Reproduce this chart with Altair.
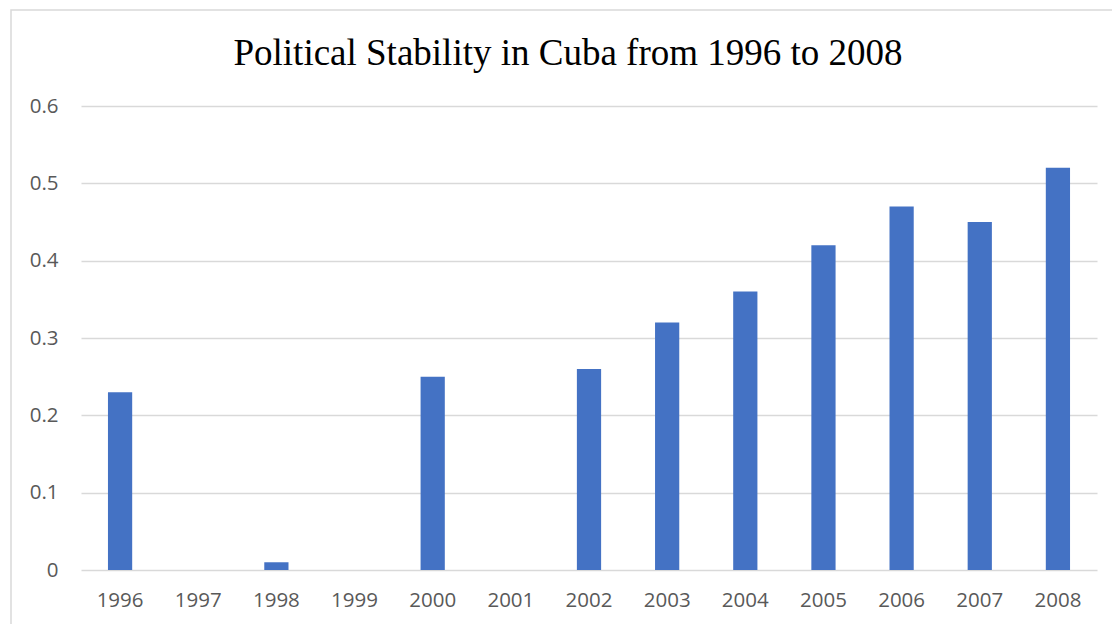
import altair as alt
import pandas as pd

years = ["1996", "1997", "1998", "1999", "2000", "2001", "2002",
         "2003", "2004", "2005", "2006", "2007", "2008"]
stability = [0.23, None, 0.01, None, 0.25, None, 0.26,
             0.32, 0.36, 0.42, 0.47, 0.45, 0.52]
y_ticks = [0, 0.1, 0.2, 0.3, 0.4, 0.5, 0.6]

df = pd.DataFrame({"year": years, "value": stability})

W, H = 1016, 464
GRID = "#d9d9d9"
LABEL = "#595959"

bars = alt.Chart(df).mark_bar(color="#4472C4").encode(
    x=alt.X(
        "year:N",
        sort=years,
        title=None,
        scale=alt.Scale(paddingInner=0.69, paddingOuter=0.345),
        axis=alt.Axis(
            labelAngle=0, labelFont="Open Sans", labelFontSize=20.5,
            labelColor=LABEL, labelPadding=20, ticks=False, domain=False,
            grid=False,
        ),
    ),
    y=alt.Y(
        "value:Q",
        title=None,
        scale=alt.Scale(domain=[0, 0.6], nice=False),
        axis=alt.Axis(
            values=y_ticks, format="~g", labelFont="Open Sans",
            labelFontSize=20.5, labelColor=LABEL, labelPadding=23,
            ticks=False, domain=False, gridColor=GRID, gridWidth=1.3,
        ),
    ),
)

# outer frame around the whole chart
frame = alt.Chart(pd.DataFrame({"k": [0]})).mark_rect(
    fill=None, stroke=GRID, strokeWidth=1.5
).encode(
    x=alt.value(-70), x2=alt.value(1200),
    y=alt.value(-96), y2=alt.value(700),
)

chart = alt.layer(frame, bars).properties(
    width=W,
    height=H,
    background="white",
    padding={"left": 81, "top": 106, "right": 15, "bottom": 54},
    autosize=alt.AutoSizeParams(type="none"),
    title=alt.TitleParams(
        "Political Stability in Cuba from 1996 to 2008",
        font="Liberation Serif", fontSize=37, fontWeight="normal",
        color="#000000", anchor="middle", frame="group", dx=-21,
        offset=41, dy=134, baseline="alphabetic",
    ),
).configure_view(strokeWidth=0)

chart.save("out.html", embed_options={"renderer": "svg", "actions": False})
